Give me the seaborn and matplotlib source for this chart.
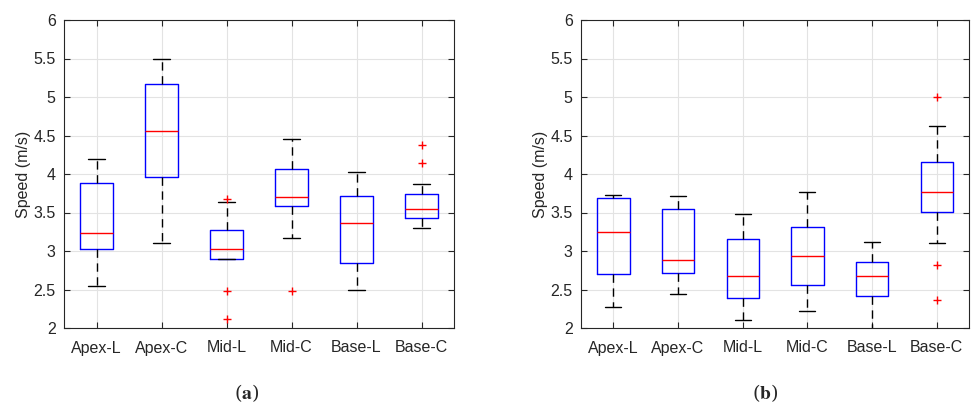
import numpy as np
import matplotlib
matplotlib.use("Agg")
import matplotlib.pyplot as plt
import seaborn as sns

# category labels
regions = ["Apex-L", "Apex-C", "Mid-L", "Mid-C", "Base-L", "Base-C"]

# panel (a) box statistics
a_low = [2.55, 3.11, 2.89, 3.17, 2.50, 3.30]
a_q1 = [3.02, 3.96, 2.90, 3.59, 2.85, 3.43]
a_med = [3.24, 4.56, 3.03, 3.70, 3.36, 3.54]
a_q3 = [3.88, 5.17, 3.27, 4.06, 3.71, 3.74]
a_high = [4.19, 5.50, 3.64, 4.45, 4.03, 3.87]
a_out = [[], [], [3.68, 2.48, 2.12], [2.48], [], [4.14, 4.38]]

# panel (b) box statistics
b_low = [2.27, 2.44, 2.10, 2.22, 1.97, 3.10]
b_q1 = [2.70, 2.71, 2.39, 2.56, 2.41, 3.51]
b_med = [3.25, 2.88, 2.67, 2.93, 2.68, 3.77]
b_q3 = [3.69, 3.55, 3.16, 3.31, 2.86, 4.15]
b_high = [3.73, 3.72, 3.48, 3.77, 3.12, 4.62]
b_out = [[], [], [], [], [], [5.00, 2.82, 2.37]]

y_ticks = [2, 2.5, 3, 3.5, 4, 4.5, 5, 5.5, 6]
AX_COLOR = "#262626"

sns.set_theme(style="whitegrid")
plt.rcParams["font.family"] = ["Liberation Sans", "DejaVu Sans"]
plt.rcParams["mathtext.fontset"] = "stix"


def make_stats(low, q1, med, q3, high, out):
    stats = []
    for i, name in enumerate(regions):
        stats.append({
            "label": name, "whislo": low[i], "q1": q1[i], "med": med[i],
            "q3": q3[i], "whishi": high[i], "fliers": np.array(out[i]),
        })
    return stats


def draw_panel(ax, stats):
    ax.bxp(stats, positions=np.arange(1, len(regions) + 1), widths=0.5,
           showfliers=True, manage_ticks=False,
           boxprops=dict(color="blue", linewidth=1.0),
           medianprops=dict(color="red", linewidth=1.0),
           whiskerprops=dict(color="black", linestyle=(0, (6, 4)), linewidth=1.0),
           capprops=dict(color="black", linewidth=1.0),
           capwidths=0.25,
           flierprops=dict(marker="+", markeredgecolor="red", markersize=6,
                           markeredgewidth=1.0, linestyle="none"))
    ax.set_xlim(0.5, 6.5)
    ax.set_ylim(2, 6)
    ax.set_xticks(np.arange(1, len(regions) + 1))
    ax.set_xticklabels(regions)
    ax.set_yticks(y_ticks)
    ax.set_yticklabels([f"{t:g}" for t in y_ticks])
    ax.set_ylabel("Speed (m/s)", fontsize=11.5, color=AX_COLOR, labelpad=2)
    ax.grid(True, color="#e3e3e3", linewidth=0.8)
    ax.set_axisbelow(True)
    ax.tick_params(axis="both", direction="in", length=4, width=0.8,
                   colors=AX_COLOR, labelsize=11.5, top=True, right=True,
                   bottom=True, left=True)
    ax.tick_params(axis="x", pad=9)
    ax.tick_params(axis="y", pad=6)
    for s in ax.spines.values():
        s.set_color(AX_COLOR)
        s.set_linewidth(0.8)
        s.set_visible(True)


fig = plt.figure(figsize=(9.71, 4.05), dpi=100)
ax1 = fig.add_axes([64 / 971, 1 - 328 / 405, 390 / 971, 308 / 405])
ax2 = fig.add_axes([581 / 971, 1 - 328 / 405, 388 / 971, 308 / 405])

draw_panel(ax1, make_stats(a_low, a_q1, a_med, a_q3, a_high, a_out))
draw_panel(ax2, make_stats(b_low, b_q1, b_med, b_q3, b_high, b_out))

fig.text(247 / 971, 1 - 393 / 405, r"($\mathbf{a}$)", ha="center", va="center",
         fontsize=14, family="serif")
fig.text(765 / 971, 1 - 393 / 405, r"($\mathbf{b}$)", ha="center", va="center",
         fontsize=14, family="serif")

fig.savefig("out.png", dpi=100)
